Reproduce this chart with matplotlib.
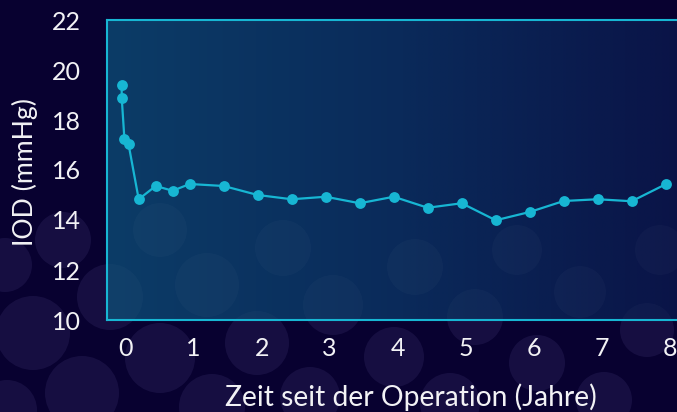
import numpy as np
import matplotlib
matplotlib.use("Agg")
import matplotlib.pyplot as plt
from matplotlib.patches import Circle
from matplotlib.colors import LinearSegmentedColormap
import matplotlib.transforms as mtransforms

# ---- data ----
years = [0.0, 0.0, 0.04, 0.1, 0.25, 0.5, 0.75, 1.0, 1.5, 2.0, 2.5, 3.0, 3.5,
         4.0, 4.5, 5.0, 5.5, 6.0, 6.5, 7.0, 7.5, 8.0]
iop = [19.41, 18.9, 17.23, 17.04, 14.83, 15.36, 15.17, 15.44, 15.36, 15.0,
       14.83, 14.93, 14.67, 14.93, 14.49, 14.67, 13.99, 14.32, 14.76, 14.83,
       14.75, 15.43]
x_ticks = [0, 1, 2, 3, 4, 5, 6, 7, 8]
y_ticks = [10, 12, 14, 16, 18, 20, 22]
x_label = "Zeit seit der Operation (Jahre)"
y_label = "IOD (mmHg)"

# decorative background bubbles (pixel centre x, y from top, radius)
bubbles = [(160, 230, 27), (110, 297, 33), (207, 285, 32), (283, 248, 28),
           (333, 305, 30), (33, 333, 37), (5, 265, 27), (63, 240, 28),
           (160, 358, 35), (257, 343, 32), (82, 393, 37), (212, 407, 33),
           (7, 410, 30), (310, 397, 30), (415, 267, 28), (517, 250, 25),
           (580, 292, 26), (475, 317, 28), (660, 250, 25), (647, 330, 27),
           (394, 357, 30), (537, 363, 28), (450, 403, 30), (604, 400, 28)]

BG = "#080130"
CYAN = "#17b6d3"
TXT = "#f2f2f5"

plt.rcParams['font.family'] = ['Lato', 'DejaVu Sans']

W, H = 677, 412
fig = plt.figure(figsize=(W / 100, H / 100), dpi=100)
fig.patch.set_facecolor(BG)

for (cx, cy, r) in bubbles:
    fig.add_artist(Circle((cx / 100, (H - cy) / 100), r / 100,
                          transform=fig.dpi_scale_trans,
                          facecolor="#8a7fd0", alpha=0.11, edgecolor="none",
                          zorder=-1))

x0_px = 121.7
px_per_year = 68.0
left_px = 107
xlim = (-(x0_px - left_px) / px_per_year, 8.5)
right_px = x0_px + xlim[1] * px_per_year
ax = fig.add_axes([left_px / W, (H - 320) / H, (right_px - left_px) / W, 300 / H])
ax.set_facecolor("none")

grad = LinearSegmentedColormap.from_list("g", ["#0c3c67", "#0a2a5a", "#0a1246"])
ax.imshow(np.linspace(0, 1, 256).reshape(1, -1), cmap=grad, aspect="auto",
          extent=(xlim[0], xlim[1], 10, 22), zorder=0, interpolation="bilinear")

for (cx, cy, r) in bubbles:
    c = Circle((cx / 100, (H - cy) / 100), r / 100,
               transform=fig.dpi_scale_trans,
               facecolor="white", alpha=0.022, edgecolor="none", zorder=0.5)
    ax.add_artist(c)
    c.set_clip_path(ax.patch)

ax.plot(years, iop, color=CYAN, lw=1.6, marker="o", markersize=7.8,
        markeredgewidth=0, zorder=3)

ax.set_xlim(*xlim)
ax.set_ylim(10, 22)
ax.set_xticks(x_ticks)
ax.set_yticks(y_ticks)
ax.tick_params(axis="both", length=0, labelsize=18, labelcolor=TXT)
ax.tick_params(axis="x", pad=12.5)
ax.tick_params(axis="y", pad=19)
offset = mtransforms.ScaledTranslation(0.04, 0, fig.dpi_scale_trans)
for lab in ax.get_xticklabels():
    lab.set_transform(lab.get_transform() + offset)

for s in ax.spines.values():
    s.set_color(CYAN)
    s.set_linewidth(1.5)
    s.set_zorder(4)

fig.text(411 / W, 1 - 397 / H, x_label, ha="center", va="center",
         fontsize=20.3, color=TXT)
fig.text(25 / W, 1 - 172 / H, y_label, ha="center", va="center",
         fontsize=19.2, color=TXT, rotation=90)

fig.savefig("out.png", dpi=100, facecolor=BG)
